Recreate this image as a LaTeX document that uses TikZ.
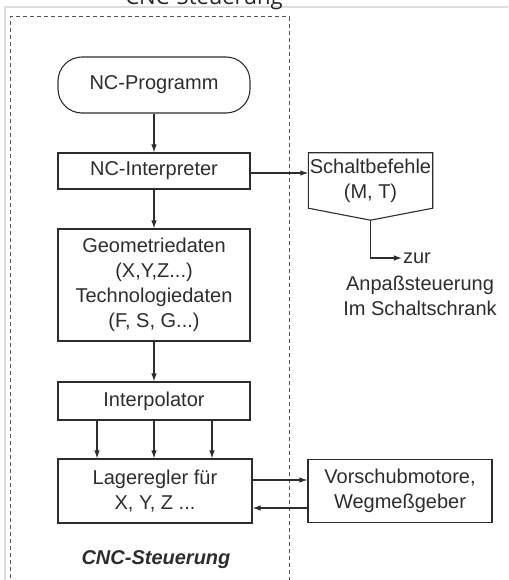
\documentclass[tikz,border=0pt]{standalone}
\usepackage{fontspec}
\setmainfont{Liberation Sans}
\newfontfamily\captionfont{Open Sans}
\usetikzlibrary{arrows.meta,calc}
\definecolor{cncframe}{RGB}{222,222,222}
\definecolor{cncdash}{RGB}{85,85,85}
\definecolor{cncline}{RGB}{45,45,45}
\begin{document}
\begin{tikzpicture}[yscale=-1
,pstyle/.style={color=cncline,line width=1.1pt}
,arrstyle/.style={pstyle,-{Latex[length=8pt,width=5.5pt]}}
,boxstyle/.style={draw=cncline,line width=1.1pt,minimum width=192pt,align=center,inner sep=2pt,font=\fontsize{20}{25}\selectfont,text=cncline}
,txtstyle/.style={align=center,inner sep=1pt,font=\fontsize{20}{25}\selectfont,text=cncline}
]
\useasboundingbox (0pt,0pt) rectangle (508pt,580pt);
% frame of the scan and cut caption
\draw[color=cncframe,line width=1.6pt] (5pt,580pt) -- (5pt,7pt) -- (508pt,7pt);
\node (titel) at (204pt,4.5pt)[anchor=base,font=\captionfont\fontsize{22}{26}\selectfont,color=black!85]{CNC-Steuerung};
% dashed border of the control
\draw[color=cncdash,line width=1pt,dash pattern=on 4pt off 3pt] (10pt,585pt) -- (10pt,17pt) -- (289pt,17pt) -- (289pt,585pt);
% left column
\node (prog) at (154pt,85pt)[boxstyle,minimum height=56pt,rounded corners=24pt]{NC-Programm};
\node (interp) at (154pt,171pt)[boxstyle,minimum height=36pt]{NC-Interpreter};
\node (geo) at (154pt,285pt)[boxstyle,minimum height=112pt]{Geometriedaten\\(X,Y,Z...)\\Technologiedaten\\(F, S, G...)};
\node (interpol) at (154pt,401pt)[boxstyle,minimum height=38pt]{Interpolator};
\node (lage) at (155pt,491pt)[boxstyle,minimum width=194pt,minimum height=64pt]{Lageregler für\\X, Y, Z ...};
\node (cnc) at (156pt,560pt)[txtstyle,font=\fontsize{20}{25}\selectfont\bfseries\itshape]{CNC-Steuerung};
% right column
\node (schalt) at (370.5pt,180.5pt)[txtstyle,minimum width=124pt,minimum height=55pt,inner sep=0pt]{Schaltbefehle\\(M, T)};
\draw[pstyle] (schalt.north west) -- (schalt.north east) -- (schalt.south east) -- ($(schalt.south)+(0,12pt)$) coordinate (tip) -- (schalt.south west) -- cycle;
\node (zur) at (417pt,258pt)[txtstyle]{zur};
\node (anpass) at (420pt,296pt)[txtstyle]{Anpaßsteuerung\\Im Schaltschrank};
\node (vor) at (400pt,491pt)[boxstyle,minimum width=184pt,minimum height=63pt]{Vorschubmotore,\\Wegmeßgeber};
% connectors
\draw[arrstyle] (prog) -- (interp);
\draw[arrstyle] (interp) -- (geo);
\draw[arrstyle] (geo) -- (interpol);
\foreach \xo in {-57,0,58}
  \draw[arrstyle] (interpol.south) ++(\xo pt,0) coordinate (ip) -- (ip |- lage.north);
\draw[arrstyle] (interp.east) ++(0,2pt) coordinate (ie) -- (ie -| schalt.west);
\draw[arrstyle] (tip) |- (zur.west);
\draw[arrstyle] (lage.east) ++(0,-11pt) coordinate (la) -- (la -| vor.west);
\draw[arrstyle] (vor.west) ++(0,17pt) coordinate (vo) -- (vo -| lage.east);
\end{tikzpicture}
\end{document}
